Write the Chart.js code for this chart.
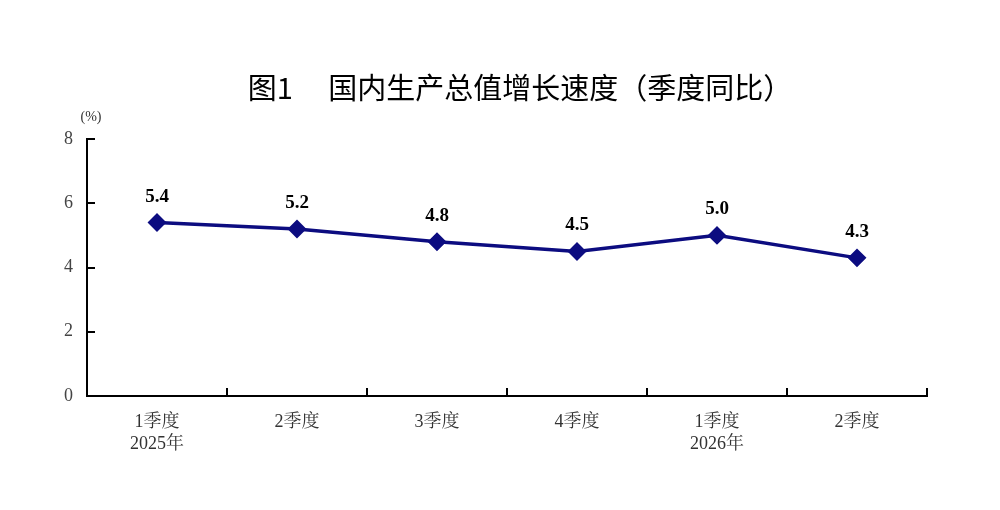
<!DOCTYPE html>
<html><head><meta charset="utf-8">
<script src="https://cdn.jsdelivr.net/npm/chart.js@4/dist/chart.umd.min.js"></script>
<style>html,body{margin:0;padding:0;background:#fff}#wrap{width:1000px;height:510px}</style>
</head><body><div id="wrap"><canvas id="c" width="1000" height="510"></canvas></div>
<script>
const categories = [['1季度','2025年'], '2季度', '3季度', '4季度', ['1季度','2026年'], '2季度'];
const growth = [5.4, 5.2, 4.8, 4.5, 5.0, 4.3];
const yTicks = [0, 2, 4, 6, 8];
const titleText = '图1\u3000 国内生产总值增长速度（季度同比）';
const unitText = '(%)';

const serif = '"Liberation Serif", "Times New Roman", "Noto Serif CJK SC", "Noto Sans CJK SC", serif';
const sans = '"Noto Sans CJK SC", "Noto Sans", sans-serif';

const decor = {
  id: 'decor',
  afterDraw(chart) {
    const ctx = chart.ctx, x = chart.scales.x, y = chart.scales.y, a = chart.chartArea;
    ctx.save();
    ctx.strokeStyle = '#000'; ctx.lineWidth = 2;
    yTicks.forEach(v => {
      const py = Math.round(y.getPixelForValue(v));
      ctx.beginPath(); ctx.moveTo(a.left, py); ctx.lineTo(a.left + 8, py); ctx.stroke();
    });
    const n = categories.length;
    const step = (a.right - a.left) / n;
    for (let i = 1; i <= n; i++) {
      const px = Math.round(x.getPixelForValue(i - 1) + step / 2);
      ctx.beginPath(); ctx.moveTo(px, a.bottom); ctx.lineTo(px, a.bottom - 8); ctx.stroke();
    }
    const meta = chart.getDatasetMeta(0);
    ctx.fillStyle = '#000';
    ctx.font = 'bold 19px ' + serif;
    ctx.textAlign = 'center'; ctx.textBaseline = 'alphabetic';
    meta.data.forEach((pt, i) => {
      ctx.fillText(growth[i].toFixed(1), pt.x, pt.y - 21);
    });
    ctx.font = '14px ' + serif;
    ctx.fillStyle = '#333';
    ctx.textAlign = 'center';
    ctx.fillText(unitText, a.left + 4, a.top - 18);
    ctx.font = '29px ' + sans;
    ctx.fillStyle = '#000';
    ctx.textAlign = 'center'; ctx.textBaseline = 'middle';
    ctx.fillText(titleText, 520, 88);
    ctx.restore();
  }
};

new Chart(document.getElementById('c'), {
  type: 'line',
  data: {
    labels: categories,
    datasets: [{
      data: growth,
      borderColor: '#0c0c80',
      backgroundColor: '#0c0c80',
      borderWidth: 3.5,
      pointStyle: 'rectRot',
      pointRadius: 7,
      pointHoverRadius: 7,
      tension: 0
    }]
  },
  options: {
    responsive: false,
    animation: false,
    devicePixelRatio: 1,
    layout: { padding: { top: 139, left: 0, right: 73, bottom: 0 } },
    plugins: { legend: { display: false }, title: { display: false }, tooltip: { enabled: false } },
    scales: {
      x: {
        offset: true,
        grid: { display: false, drawTicks: false },
        border: { display: true, color: '#000', width: 2 },
        ticks: { color: '#333', font: { family: serif, size: 18, lineHeight: 1.25 }, padding: 15, maxRotation: 0, autoSkip: false },
        afterFit(s) { s.height = 114; }
      },
      y: {
        min: 0, max: 8,
        afterBuildTicks(s) { s.ticks = yTicks.map(v => ({ value: v })); },
        grid: { display: false, drawTicks: false },
        border: { display: true, color: '#000', width: 2 },
        ticks: { color: '#444', font: { family: serif, size: 18 }, padding: 14 },
        afterFit(s) { s.width = 87; }
      }
    }
  },
  plugins: [decor]
});
</script>
</body></html>
